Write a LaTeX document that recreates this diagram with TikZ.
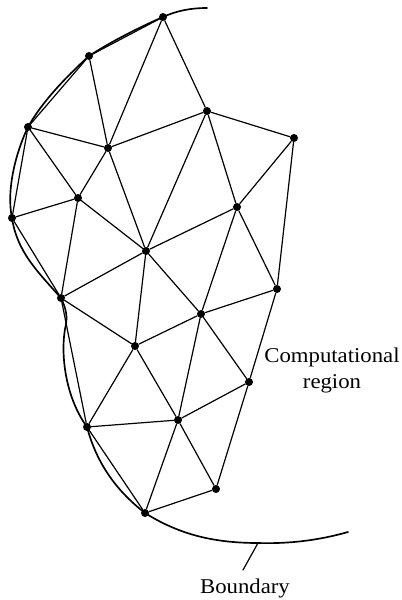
\documentclass[tikz,border=0pt]{standalone}
\usepackage{fontspec}
\setmainfont[FakeStretch=1.08]{Liberation Serif}
\usetikzlibrary{positioning}

\begin{document}
\begin{tikzpicture}[
    x=0.75pt, y=-0.75pt,
    dotNode/.style={circle, fill=black, inner sep=0pt, minimum size=6pt},
    edge/.style={line width=0.9pt, line cap=round},
    boundary/.style={line width=1.25pt, line cap=round},
    labelNode/.style={align=center, font=\fontsize{15.8}{19.5}\selectfont, inner sep=0pt}
  ]
  \useasboundingbox (0,0) rectangle (401,600);

  % Mesh points
  \node[dotNode] (top) at (163,17) {};
  \node[dotNode] (upper) at (89,56) {};
  \node[dotNode] (shoulder) at (28,127) {};
  \node[dotNode] (left) at (12,218) {};
  \node[dotNode] (waist) at (61,298) {};
  \node[dotNode] (inner1) at (108,148) {};
  \node[dotNode] (inner2) at (78,198) {};
  \node[dotNode] (centre) at (146,251) {};
  \node[dotNode] (inner3) at (207,111) {};
  \node[dotNode] (right1) at (294,138) {};
  \node[dotNode] (inner4) at (237,207) {};
  \node[dotNode] (right2) at (277,289) {};
  \node[dotNode] (inner5) at (201,314) {};
  \node[dotNode] (inner6) at (135,346) {};
  \node[dotNode] (right3) at (249,382) {};
  \node[dotNode] (inner7) at (178,420) {};
  \node[dotNode] (lower) at (87,427) {};
  \node[dotNode] (right4) at (216,489) {};
  \node[dotNode] (bottom) at (145,513) {};

  % Boundary
  \coordinate (startB) at (207,8);
  \coordinate (endB) at (348,532);
  \coordinate (tickB) at (258,543);
  \coordinate (tickEnd) at (243,570);
  \draw[boundary] (startB) .. controls (190,8) and (176,11) .. (top.center)
    .. controls (140,27) and (112,41) .. (upper.center)
    .. controls (65,78) and (42,102) .. (shoulder.center)
    .. controls (16,152) and (6,190) .. (left.center)
    .. controls (17,252) and (38,272) .. (waist.center)
    .. controls (67,310) and (67,318) .. (66,324)
    .. controls (60,350) and (64,395) .. (lower.center)
    .. controls (97,465) and (118,492) .. (bottom.center)
    .. controls (180,535) and (215,543) .. (tickB)
    .. controls (290,544) and (320,540) .. (endB);

  % Edges
  \draw[edge] (top) -- (upper);
  \draw[edge] (top) -- (inner1);
  \draw[edge] (top) -- (inner3);
  \draw[edge] (upper) -- (shoulder);
  \draw[edge] (upper) -- (inner1);
  \draw[edge] (shoulder) -- (left);
  \draw[edge] (shoulder) -- (inner1);
  \draw[edge] (shoulder) -- (inner2);
  \draw[edge] (left) -- (inner2);
  \draw[edge] (left) -- (waist);
  \draw[edge] (waist) -- (inner2);
  \draw[edge] (waist) -- (centre);
  \draw[edge] (waist) -- (inner6);
  \draw[edge] (waist) -- (lower);
  \draw[edge] (inner1) -- (inner2);
  \draw[edge] (inner1) -- (centre);
  \draw[edge] (inner1) -- (inner3);
  \draw[edge] (inner2) -- (centre);
  \draw[edge] (centre) -- (inner3);
  \draw[edge] (centre) -- (inner4);
  \draw[edge] (centre) -- (inner5);
  \draw[edge] (centre) -- (inner6);
  \draw[edge] (inner3) -- (inner4);
  \draw[edge] (inner3) -- (right1);
  \draw[edge] (right1) -- (inner4);
  \draw[edge] (right1) -- (right2);
  \draw[edge] (inner4) -- (right2);
  \draw[edge] (inner4) -- (inner5);
  \draw[edge] (right2) -- (inner5);
  \draw[edge] (right2) -- (right3);
  \draw[edge] (inner5) -- (right3);
  \draw[edge] (inner5) -- (inner6);
  \draw[edge] (inner5) -- (inner7);
  \draw[edge] (inner6) -- (lower);
  \draw[edge] (inner6) -- (inner7);
  \draw[edge] (right3) -- (inner7);
  \draw[edge] (right3) -- (right4);
  \draw[edge] (inner7) -- (lower);
  \draw[edge] (inner7) -- (bottom);
  \draw[edge] (inner7) -- (right4);
  \draw[edge] (lower) -- (bottom);
  \draw[edge] (right4) -- (bottom);

  % Labels
  \node[labelNode] (region) at (332,370) {Computational\\region};
  \node[labelNode] (boundaryLabel) at (245,588) {Boundary};
  \draw[edge] (tickB) -- (tickEnd);
\end{tikzpicture}
\end{document}
